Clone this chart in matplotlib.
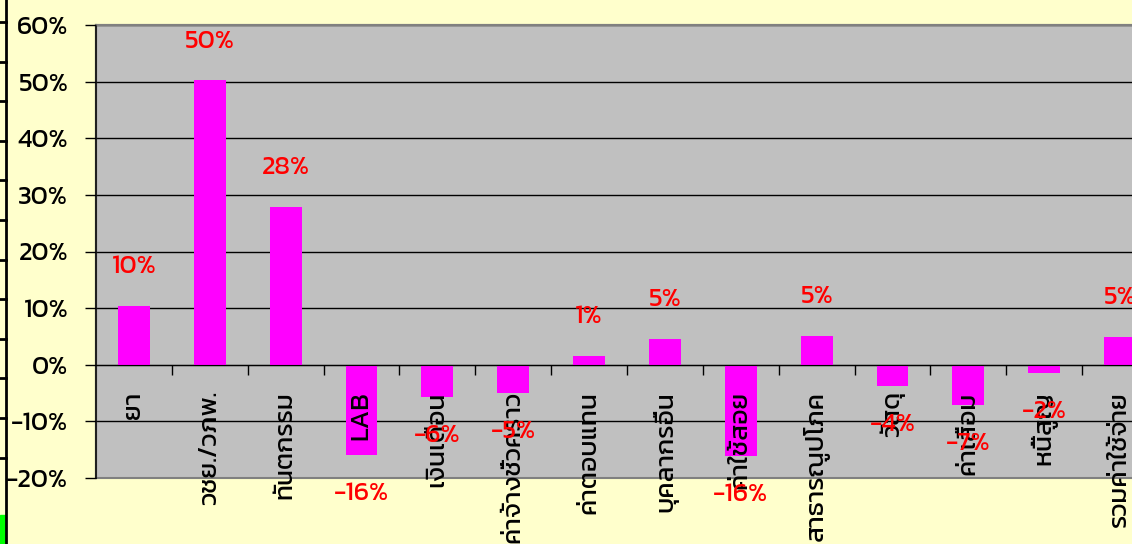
import matplotlib
matplotlib.use('Agg')
import matplotlib.pyplot as plt
from matplotlib.lines import Line2D
from matplotlib.patches import Rectangle

# ข้อมูล: เปอร์เซ็นต์การเปลี่ยนแปลงตามหมวดค่าใช้จ่าย
categories = ['ยา', 'วชย./วภพ.', 'ทันตกรรม', 'LAB', 'เงินเดือน', 'ค่าจ้างชั่วคราว',
              'ค่าตอบแทน', 'บุคลากรอื่น', 'ค่าใช้สอย', 'สาธารณูปโภค', 'วัสดุ',
              'ค่าเสื่อม', 'หนี้สูญ', 'รวมค่าใช้จ่าย']
values = [10.4, 50.2, 27.8, -15.9, -5.7, -5.0, 1.6, 4.6, -16.1, 5.1, -3.7, -7.1, -1.4, 4.9]
value_labels = ['10%', '50%', '28%', '-16%', '-6%', '-5%', '1%', '5%', '-16%', '5%',
                '-4%', '-7%', '-2%', '5%']
y_ticks = [-20, -10, 0, 10, 20, 30, 40, 50, 60]

plt.rcParams['font.family'] = ['Kanit', 'DejaVu Sans']
plt.rcParams['axes.unicode_minus'] = False

bg = '#FFFFCC'
fig = plt.figure(figsize=(11.32, 5.44), dpi=100, facecolor=bg)
ax = fig.add_axes([96 / 1132, 66 / 544, 1062 / 1132, 453 / 544])
ax.set_facecolor('#C0C0C0')
ax.set_axisbelow(False)

# เส้นกริดวาดเองให้อยู่ใต้แท่ง แต่ป้ายแกนอยู่บนแท่ง
for v in y_ticks:
    ax.axhline(v, color='black', linewidth=1, zorder=1)

x = list(range(len(categories)))
ax.bar(x, values, width=0.42, color='#FF00FF', zorder=2)

for i in range(len(x)):
    if values[i] >= 0:
        off = 28
    else:
        off = -28
    ax.annotate(value_labels[i], (x[i], values[i]), xytext=(0, off),
                textcoords='offset points', ha='center', va='center',
                color='#FF0000', fontsize=19, zorder=5, annotation_clip=False)

ax.set_xlim(-0.5, len(categories) - 0.5)
ax.set_ylim(-20, 60)

ax.set_yticks(y_ticks)
ax.set_yticklabels([f'{v}%' for v in y_ticks], fontsize=19)
ax.tick_params(axis='y', length=8, width=1, pad=12, color='black')

# แกน x อยู่ที่ 0%, ขีดอยู่ระหว่างหมวด
ax.spines['bottom'].set_position(('data', 0))
ax.spines['bottom'].set_color('black')
ax.set_xticks([i + 0.5 for i in x[:-1]])
ax.set_xticklabels([])
ax.set_xticks(x, minor=True)
ax.set_xticklabels(categories, minor=True, rotation=90, fontsize=19)
ax.tick_params(axis='x', which='major', length=7, width=1, direction='out', color='black')
ax.tick_params(axis='x', which='minor', length=0, pad=19)

ax.spines['left'].set_color('#202020')
ax.spines['left'].set_linewidth(1.5)
ax.spines['top'].set_color('#808080')
ax.spines['top'].set_linewidth(1.5)
ax.spines['right'].set_visible(False)
ax.add_patch(Rectangle((0, 0), 1, 1, transform=ax.transAxes, fill=False,
                       edgecolor='#808080', linewidth=1.5, zorder=2.2, clip_on=False))

# ขอบกราฟอื่นที่ถูกตัดไปทางซ้าย
fig.add_artist(Line2D([6 / 1132, 6 / 1132], [0, 1], color='black', linewidth=2))
for k in range(12):
    yy = 1 - (22 + k * 39.6) / 544
    fig.add_artist(Line2D([0, 6 / 1132], [yy, yy], color='black', linewidth=2))
fig.add_artist(Rectangle((0, 0), 5 / 1132, 29 / 544, color='#00FF00', transform=fig.transFigure))

fig.savefig('out.png', dpi=100, facecolor=bg)
